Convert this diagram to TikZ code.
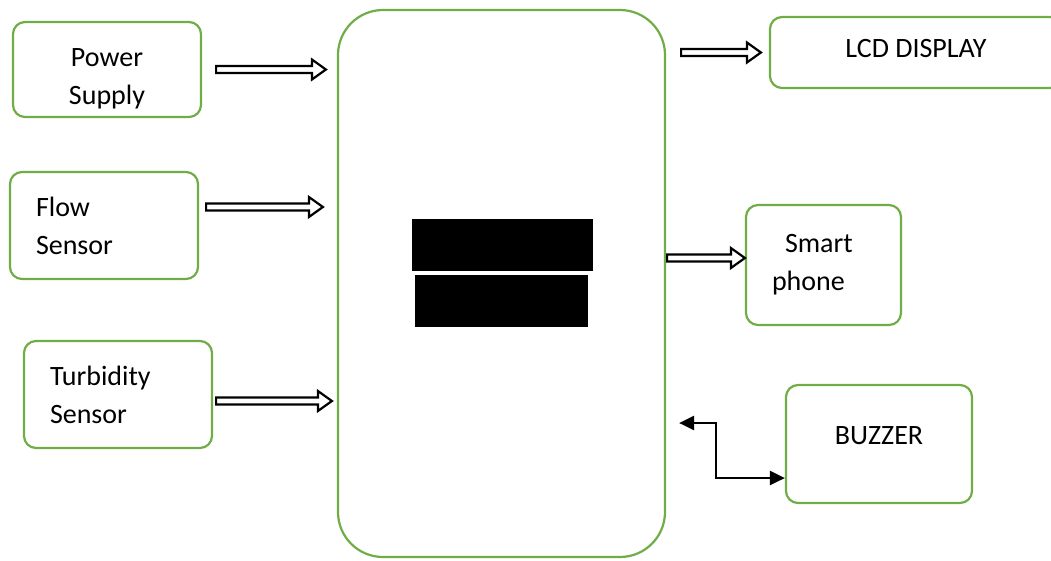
\documentclass[tikz,border=0pt]{standalone}
\usepackage{fontspec}
\setmainfont{Carlito}
\usetikzlibrary{arrows.meta}
\usetikzlibrary{calc}
\usetikzlibrary{positioning}
\definecolor{mgreen}{RGB}{112,173,71}
\tikzset{box/.style = {draw=mgreen, line width=2.2pt, rounded corners=12pt,
                       font=\fontsize{28}{38}\selectfont, align=center}}
\tikzset{leftbox/.style = {box, align=left, inner xsep=26pt}}
\tikzset{bothtip/.style = {line width=2.5pt,
                           {Triangle[length=15pt,width=14pt]}-{Triangle[length=15pt,width=14pt]}}}
\newcommand{\hollowarrow}[2]{%
  \draw [line width=2.2pt, line join=miter] let \p1 = (#1), \p2 = (#2) in
    (\x1, \y1 + 3.5pt) -- (\x2 - 14pt, \y1 + 3.5pt) -- (\x2 - 14pt, \y1 + 10pt)
    -- (\x2, \y1) -- (\x2 - 14pt, \y1 - 10pt) -- (\x2 - 14pt, \y1 - 3.5pt)
    -- (\x1, \y1 - 3.5pt) -- cycle;}

\begin{document}
\begin{tikzpicture}[x=1pt, y=-1pt]
    \useasboundingbox (0, 0) rectangle (1051, 560);
    % inputs
    \node [box, minimum width=188pt, minimum height=95pt, text height=74pt] (ps) at (107, 69.5) {Power\\Supply};
    \node [leftbox, text width=136pt, minimum height=107pt] (fs) at (104, 225.5) {Flow\\Sensor};
    \node [leftbox, text width=136pt, minimum height=107pt] (ts) at (118, 394.5) {Turbidity\\Sensor};
    % controller
    \node [box, rounded corners=45pt, minimum width=327pt, minimum height=547pt] (mcu) at (501.5, 283.5) {};
    \fill (412, 219) rectangle (593, 271);
    \fill (415, 275) rectangle (588, 327);
    % outputs
    \node [box, minimum width=292pt, minimum height=71pt, text depth=8pt] (lcd) at (916, 52.5) {LCD DISPLAY};
    \node [leftbox, text width=103pt, minimum height=120pt] (sp) at (823.5, 265) {\hspace*{13pt}Smart\\phone};
    \node [box, minimum width=186pt, minimum height=118pt, text depth=16pt] (bz) at (879, 444) {BUZZER};
    % connectors
    \coordinate (ps-out) at ($(ps.east)+(14, 0)$);
    \coordinate (ps-in) at ($(ps-out -| mcu.west)+(-11, 0)$);
    \coordinate (fs-out) at ($(fs.east)+(7, -18.5)$);
    \coordinate (fs-in) at ($(fs-out -| mcu.west)+(-14, 0)$);
    \coordinate (ts-out) at ($(ts.east)+(3, 6.5)$);
    \coordinate (ts-in) at ($(ts-out -| mcu.west)+(-5, 0)$);
    \coordinate (lcd-out) at ($(mcu.east |- lcd.west)+(15, 0)$);
    \coordinate (lcd-in) at ($(lcd.west)+(-8, 0)$);
    \coordinate (sp-out) at ($(mcu.east |- sp.west)+(1, -7)$);
    \coordinate (sp-in) at ($(sp.west)+(0, -7)$);
    \hollowarrow{ps-out}{ps-in}
    \hollowarrow{fs-out}{fs-in}
    \hollowarrow{ts-out}{ts-in}
    \hollowarrow{lcd-out}{lcd-in}
    \hollowarrow{sp-out}{sp-in}
    \coordinate (bz-tip) at ($(mcu.east)+(13, 139.5)$);
    \draw [bothtip] (bz-tip) -- ++(37, 0) |- ($(bz.west)+(0, 34)$);
\end{tikzpicture}
\end{document}
